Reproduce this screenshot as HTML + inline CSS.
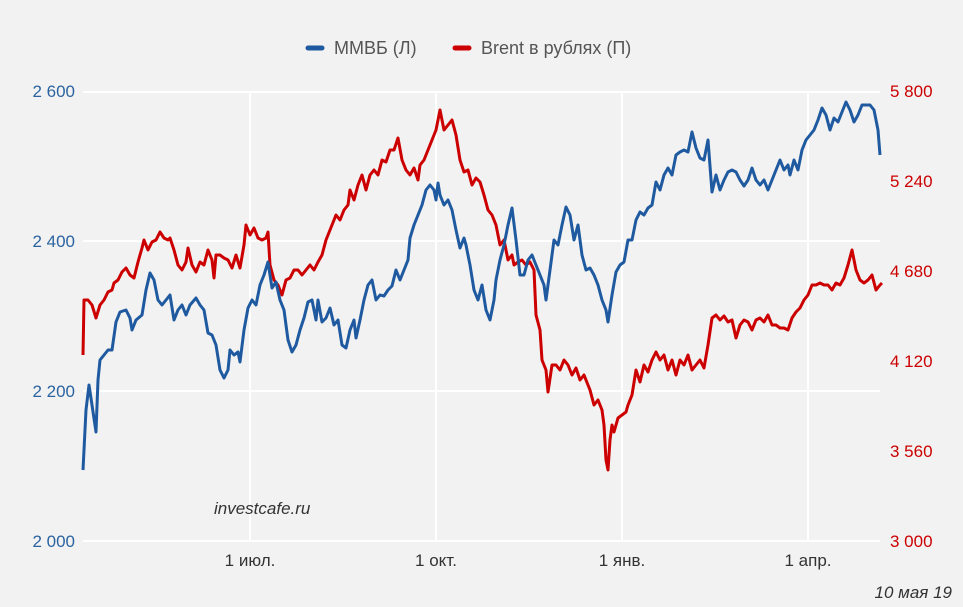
<!DOCTYPE html>
<html><head><meta charset="utf-8"><style>
body{margin:0;background:#f2f2f2;font-family:"Liberation Sans",sans-serif;}
svg{display:block}
</style></head><body>
<svg width="963" height="607" viewBox="0 0 963 607" xmlns="http://www.w3.org/2000/svg">
<rect width="963" height="607" fill="#f2f2f2"/>
<g stroke="#ffffff" stroke-width="2">
<line x1="83" y1="92" x2="880" y2="92"/>
<line x1="83" y1="241" x2="880" y2="241"/>
<line x1="83" y1="391" x2="880" y2="391"/>
<line x1="83" y1="541" x2="880" y2="541"/>
<line x1="250" y1="92" x2="250" y2="541"/>
<line x1="436" y1="92" x2="436" y2="541"/>
<line x1="622" y1="92" x2="622" y2="541"/>
<line x1="808" y1="92" x2="808" y2="541"/>
</g>
<g font-size="17" fill="#2b63a0" text-anchor="end">
<text x="75" y="97">2 600</text><text x="75" y="247">2 400</text><text x="75" y="397">2 200</text><text x="75" y="547">2 000</text>
</g>
<g font-size="17" fill="#cc0000" text-anchor="start">
<text x="890" y="97">5 800</text><text x="890" y="187">5 240</text><text x="890" y="277">4 680</text><text x="890" y="367">4 120</text><text x="890" y="457">3 560</text><text x="890" y="547">3 000</text>
</g>
<g font-size="17" fill="#333" text-anchor="middle">
<text x="250" y="566">1 июл.</text><text x="436" y="566">1 окт.</text><text x="622" y="566">1 янв.</text><text x="808" y="566">1 апр.</text>
</g>
<text x="214" y="514" font-size="17" font-style="italic" fill="#333">investcafe.ru</text>
<text x="952" y="598" font-size="17" font-style="italic" fill="#333" text-anchor="end">10 мая 19</text>
<line x1="308" y1="48" x2="322" y2="48" stroke="#1f5aa0" stroke-width="5" stroke-linecap="round"/>
<text x="334" y="54" font-size="18" fill="#555">ММВБ (Л)</text>
<line x1="455" y1="48" x2="469" y2="48" stroke="#cc0000" stroke-width="5" stroke-linecap="round"/>
<text x="481" y="54" font-size="18" fill="#555">Brent в рублях (П)</text>
<polyline fill="none" stroke="#cc0000" stroke-width="3" stroke-linejoin="round" points="83,355 84,300 88,300 92,305 96,318 100,305 104,300 108,292 112,290 114,283 118,280 122,272 126,268 130,275 134,278 138,262 142,248 144,240 148,250 152,242 156,240 160,232 164,238 168,240 170,238 174,250 178,265 182,270 186,262 188,248 192,265 196,272 200,262 204,265 208,250 212,260 214,278 216,255 220,255 224,258 228,260 232,268 236,255 240,268 244,245 246,225 250,235 254,228 258,238 262,240 266,238 268,232 270,265 274,280 278,285 282,295 286,280 290,278 294,270 298,270 302,275 306,270 310,265 314,270 318,262 322,255 326,240 330,230 334,220 336,215 340,220 344,210 348,205 350,190 354,200 358,185 362,175 366,190 370,175 374,170 378,175 382,160 386,162 390,150 394,150 398,138 402,160 406,170 410,175 414,168 418,180 420,165 424,160 428,150 432,140 436,130 440,110 444,130 448,125 452,120 456,135 460,160 464,172 468,170 472,185 476,178 480,182 484,195 488,210 492,215 496,225 500,245 504,240 508,260 512,255 514,265 518,262 522,260 526,265 530,262 534,270 536,315 540,330 542,360 546,370 548,392 552,365 556,365 560,370 564,360 568,365 572,375 576,368 580,380 584,375 588,385 590,390 594,405 598,400 602,410 604,425 606,460 608,470 610,440 612,425 614,432 618,418 622,415 626,412 628,405 632,395 636,370 640,382 644,365 648,372 652,360 656,352 660,360 664,355 668,370 672,360 676,375 680,360 684,365 688,355 692,370 696,365 700,360 704,368 708,345 712,318 716,315 720,320 724,316 728,322 732,320 736,338 740,325 744,320 748,322 752,330 756,320 760,318 764,322 768,315 772,325 776,325 780,328 784,328 788,330 792,318 796,312 800,308 804,300 808,295 812,285 816,285 820,283 824,285 828,285 832,290 836,283 840,285 844,278 848,265 852,250 856,270 860,280 864,283 868,280 872,275 876,290 880,285 882,283"/>
<polyline fill="none" stroke="#1f5aa0" stroke-width="3" stroke-linejoin="round" points="83,470 86,410 89,385 92,405 96,432 98,380 100,360 104,355 108,350 112,350 116,322 120,312 126,310 130,318 132,330 136,320 142,315 146,290 150,273 154,280 158,300 162,305 166,300 170,295 174,320 178,310 182,305 186,315 190,305 196,298 200,305 204,310 208,333 212,335 216,345 220,370 224,378 228,370 230,350 234,355 238,352 240,362 244,330 248,308 252,300 256,305 260,285 264,275 268,262 272,288 276,282 280,300 284,310 288,340 292,352 296,345 300,330 304,318 308,302 312,300 316,320 318,300 322,322 326,318 330,308 334,325 338,320 342,345 346,348 350,330 354,320 356,338 360,320 364,300 368,285 372,280 376,300 380,295 384,296 388,290 392,286 396,270 400,280 404,270 408,260 410,238 414,225 418,215 422,205 426,190 430,185 434,190 436,200 438,183 440,195 444,205 448,200 452,210 456,230 460,248 464,238 466,245 470,265 474,290 478,300 482,285 486,310 490,320 494,300 496,280 500,260 504,245 508,225 512,208 516,240 520,275 524,275 528,260 532,255 536,265 540,275 544,285 546,300 550,270 554,240 558,245 562,225 566,207 570,215 574,240 578,225 582,255 586,270 590,268 594,275 598,285 602,300 606,310 608,322 612,295 616,272 620,265 624,262 628,240 632,240 636,220 640,212 644,215 648,208 652,205 656,182 660,190 664,175 668,168 672,175 676,155 680,152 684,150 688,152 692,132 696,148 700,158 704,160 708,140 712,192 716,175 720,190 724,180 728,172 732,170 736,172 740,180 744,186 748,180 752,168 756,180 760,185 764,180 768,190 772,180 776,170 780,160 784,170 788,165 790,175 794,160 798,170 802,150 806,140 810,135 814,130 818,120 822,108 826,115 830,130 834,118 838,122 842,112 846,102 850,110 854,122 858,115 862,105 866,105 870,105 874,110 878,130 880,155"/>
</svg>
</body></html>
